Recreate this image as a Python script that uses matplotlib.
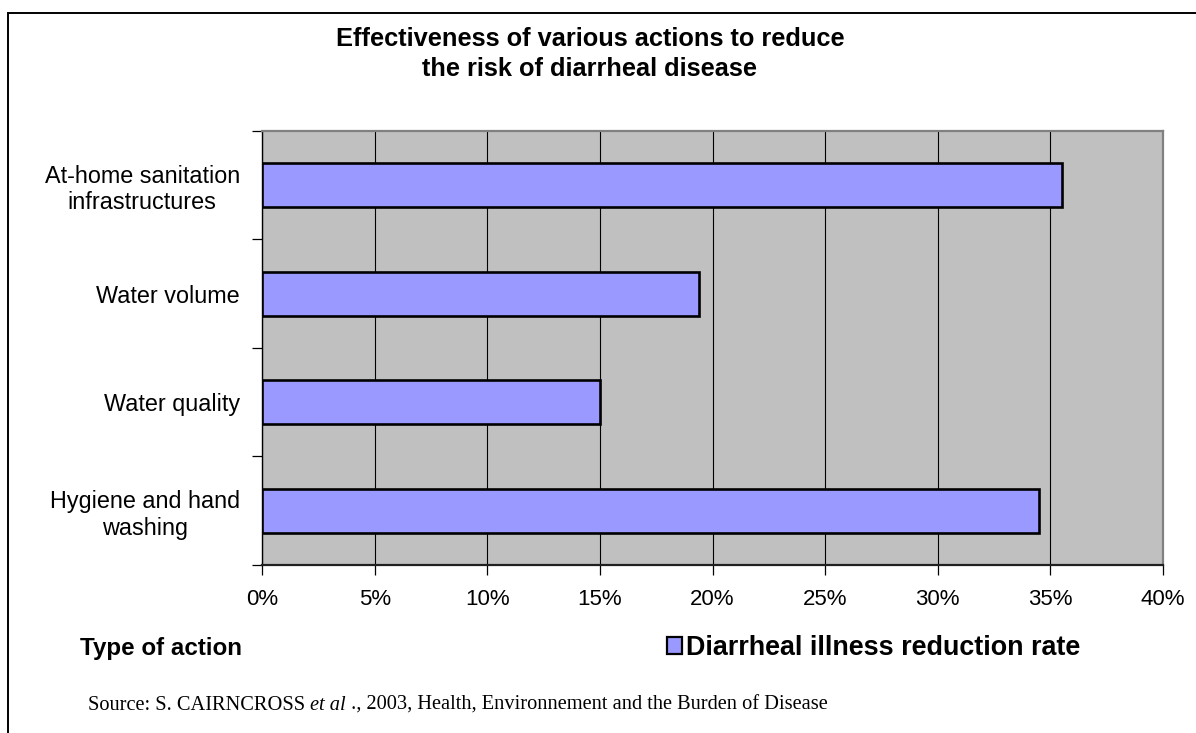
"""Effectiveness of actions to reduce diarrheal disease - horizontal bar chart."""

import matplotlib
matplotlib.use("Agg")
import matplotlib.pyplot as plt
from matplotlib.patches import Patch, Rectangle
from matplotlib.ticker import FixedLocator, PercentFormatter

# data, top to bottom as shown
actions = ["At-home sanitation\ninfrastructures", "Water volume",
           "Water quality", "Hygiene and hand\nwashing"]
reduction = [0.355, 0.194, 0.150, 0.345]
x_ticks = [0, 0.05, 0.10, 0.15, 0.20, 0.25, 0.30, 0.35, 0.40]

W, H = 1196, 733
SANS = "Liberation Sans"
SERIF = "Liberation Serif"

fig = plt.figure(figsize=(W / 100, H / 100), dpi=100)
ax = fig.add_axes([262 / W, 1 - 565 / H, (1163 - 262) / W, (565 - 131) / H])
ax.set_facecolor("#C0C0C0")

ys = list(range(len(actions)))
ax.set_axisbelow(True)
ax.xaxis.grid(True, color="black", lw=0.8)
ax.barh(ys, reduction, height=0.41, color="#9999FF", edgecolor="black",
        linewidth=1.9, zorder=3)

ax.set_xlim(0, 0.40)
ax.set_ylim(len(actions) - 0.5, -0.5)
ax.xaxis.set_major_locator(FixedLocator(x_ticks))
ax.xaxis.set_major_formatter(PercentFormatter(1.0, decimals=0))
ax.set_yticks(ys)
ax.set_yticklabels(actions, fontfamily=SANS, fontsize=16.8,
                   multialignment="center")
ax.yaxis.set_minor_locator(FixedLocator([i - 0.5 for i in range(len(actions) + 1)]))
ax.tick_params(axis="y", which="major", length=0, pad=16)
ax.tick_params(axis="y", which="minor", length=7, width=0.9, color="black")
ax.tick_params(axis="x", length=7, width=0.9, pad=10, labelsize=16)
for lab in ax.get_xticklabels():
    lab.set_fontfamily(SANS)

for side in ("top", "right"):
    ax.spines[side].set_color("#808080")
    ax.spines[side].set_linewidth(1.6)
ax.spines["left"].set_color("black")
ax.spines["bottom"].set_color("#202020")
ax.spines["left"].set_linewidth(1.0)
ax.spines["bottom"].set_linewidth(1.6)

# title
fig.text(590 / W, 1 - 54 / H,
         "Effectiveness of various actions to reduce\nthe risk of diarrheal disease",
         ha="center", va="center", fontsize=18.3, fontweight="bold",
         fontfamily=SANS, linespacing=1.3)

# axis caption and legend below the plot
fig.text(80 / W, 1 - 648 / H, "Type of action", ha="left", va="center",
         fontsize=17.4, fontweight="bold", fontfamily=SANS)
fig.legend(handles=[Patch(facecolor="#9999FF", edgecolor="black", lw=1.6)],
           labels=["Diarrheal illness reduction rate"],
           loc="center left", bbox_to_anchor=(667 / W, 1 - 648 / H),
           frameon=False, handlelength=0.55, handleheight=0.55,
           handletextpad=0.15, borderpad=0, borderaxespad=0,
           prop={"family": SANS, "weight": "bold", "size": 19.4})

# source line, with italic "et al"
t1 = fig.text(88 / W, 1 - 710 / H, "Source: S. CAIRNCROSS ", ha="left",
              va="baseline", fontsize=14.7, fontfamily=SERIF)
t2 = ax.annotate("et al", xy=(1, 0), xycoords=t1, va="bottom", ha="left",
                 fontsize=14.7, fontfamily=SERIF, fontstyle="italic",
                 annotation_clip=False)
ax.annotate(" ., 2003, Health, Environnement and the Burden of Disease",
            xy=(1, 0), xycoords=t2, va="bottom", ha="left",
            fontsize=14.7, fontfamily=SERIF, annotation_clip=False)

# outer chart frame (only top and left edges fall inside the picture)
fig.add_artist(Rectangle((8 / W, -0.2), 1.5, 1.2 - 13 / H,
                         transform=fig.transFigure, fill=False,
                         edgecolor="black", lw=1.4))

fig.savefig("out.png", dpi=100)
plt.close(fig)
